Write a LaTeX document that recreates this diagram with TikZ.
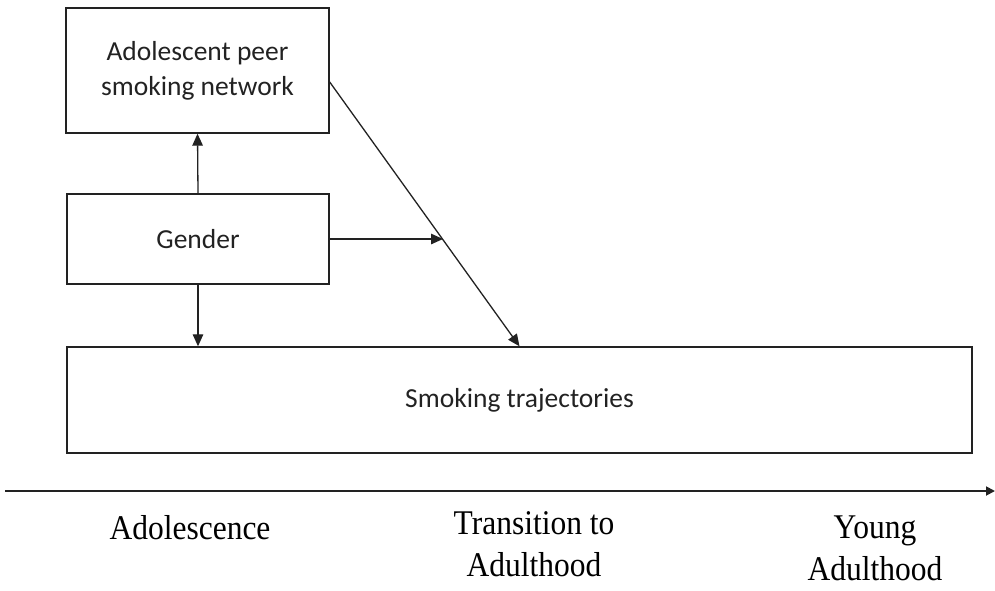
\documentclass[tikz,border=0pt]{standalone}
\usepackage{fontspec}
\setmainfont{Liberation Serif}
\newfontfamily\boxfont{Carlito}
\usetikzlibrary{arrows.meta}
\definecolor{ink}{HTML}{222222}
\tikzset{
  box/.style={draw=ink, line width=1.4pt, inner sep=0pt, align=center, text=ink,
    font=\boxfont\fontsize{27.5}{35}\selectfont},
  arr/.style={draw=ink, line width=1.3pt, -{Triangle[length=12pt,width=10.5pt]}},
  lbl/.style={anchor=base, inner sep=0pt, text=black, font=\fontsize{31.5}{38.5}\selectfont}
}
\newcommand{\stretchlbl}[1]{\scalebox{1}[1.1]{\begin{tabular}[t]{@{}c@{}}#1\end{tabular}}}
\begin{document}
\begin{tikzpicture}[x=1pt,y=-1pt]
\useasboundingbox (0,0) rectangle (995,590);
\node[box, minimum width=263pt, minimum height=125pt] (peer) at (197.5,70.5)
  {Adolescent peer\\smoking network};
\node[box, minimum width=262pt, minimum height=90pt] (gender) at (198,239) {Gender};
\node[box, minimum width=905pt, minimum height=106pt] (smoke) at (519.5,400)
  {Smoking trajectories};
\coordinate (mod) at (443,239);
\coordinate (tstart) at (5,491);
\coordinate (tend) at (995,491);
\draw[arr] (gender.north) -- (peer.south);
\draw[arr] (gender.south) -- (gender.south |- smoke.north);
\draw[arr] (gender.east) -- (mod);
\draw[arr] ([yshift=-11.5pt]peer.east) -- (smoke.north);
\draw[draw=ink, line width=1.8pt, -{Triangle[length=9pt,width=9pt]}] (tstart) -- (tend);
\node[lbl] (adol) at (190,539) {\stretchlbl{Adolescence}};
\node[lbl] (trans) at (534,534) {\stretchlbl{Transition to\\Adulthood}};
\node[lbl] (young) at (875,538) {\stretchlbl{Young\\Adulthood}};
\end{tikzpicture}
\end{document}
